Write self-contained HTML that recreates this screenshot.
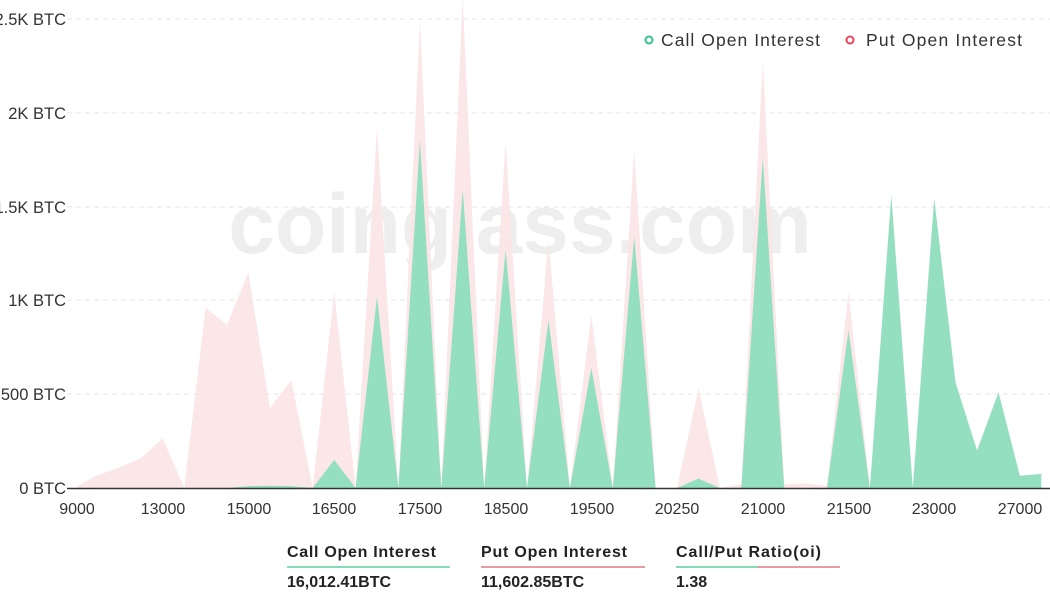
<!DOCTYPE html>
<html><head><meta charset="utf-8"><style>
body{margin:0;width:1050px;height:600px;background:#fff;overflow:hidden;font-family:"Liberation Sans",sans-serif;}
</style></head><body>
<svg width="1050" height="600" viewBox="0 0 1050 600" xmlns="http://www.w3.org/2000/svg">
<g stroke="#e6e6e6" stroke-dasharray="5,4" stroke-width="1">
<line x1="67" y1="19" x2="1050" y2="19"/><line x1="67" y1="113" x2="1050" y2="113"/>
<line x1="67" y1="207" x2="1050" y2="207"/><line x1="67" y1="300" x2="1050" y2="300"/>
<line x1="67" y1="394" x2="1050" y2="394"/>
</g>
<g font-size="16.5" fill="#333" text-anchor="end">
<text x="66" y="25">2.5K BTC</text><text x="66" y="119">2K BTC</text>
<text x="66" y="213">1.5K BTC</text><text x="66" y="306">1K BTC</text>
<text x="66" y="400">500 BTC</text><text x="66" y="494">0 BTC</text>
</g>
<text x="520" y="253" font-size="84" font-weight="bold" fill="#000" fill-opacity="0.065" text-anchor="middle">coinglass.com</text>
<path id="put" fill="#fbe3e5" fill-opacity="0.9" d=""/>
<path id="call" fill="#94dfc0" d=""/>
<line x1="67" y1="488.5" x2="1050" y2="488.5" stroke="#333" stroke-width="1.5"/>
<g font-size="16" fill="#333" text-anchor="middle">
<text x="77" y="514">9000</text><text x="163" y="514">13000</text><text x="249" y="514">15000</text>
<text x="334" y="514">16500</text><text x="420" y="514">17500</text><text x="506" y="514">18500</text>
<text x="592" y="514">19500</text><text x="677" y="514">20250</text><text x="763" y="514">21000</text>
<text x="849" y="514">21500</text><text x="934" y="514">23000</text><text x="1020" y="514">27000</text>
</g>
<circle cx="649" cy="40" r="3.5" fill="none" stroke="#2fc48a" stroke-width="2"/>
<text x="661" y="46" font-size="17.5" fill="#333" textLength="159">Call Open Interest</text>
<circle cx="850" cy="40" r="3.5" fill="none" stroke="#e8455e" stroke-width="2"/>
<text x="866" y="46" font-size="17.5" fill="#333" textLength="156">Put  Open Interest</text>
<g font-size="16" font-weight="bold" fill="#222">
<text x="287" y="557" textLength="149">Call Open Interest</text><text x="481" y="557" textLength="146">Put Open Interest</text><text x="676" y="557" textLength="145">Call/Put Ratio(oi)</text>
<text x="287" y="587">16,012.41BTC</text><text x="481" y="587">11,602.85BTC</text><text x="676" y="587">1.38</text>
</g>
<line x1="287" y1="567" x2="450" y2="567" stroke="#5ccf9e" stroke-width="1.5"/>
<line x1="481" y1="567" x2="645" y2="567" stroke="#e07a80" stroke-width="1.5"/>
<line x1="676" y1="567" x2="758" y2="567" stroke="#5ccf9e" stroke-width="1.5"/>
<line x1="758" y1="567" x2="840" y2="567" stroke="#e07a80" stroke-width="1.5"/>
</svg>
<script>
var put=[10,70,110,160,265,0,960,870,1150,425,575,0,1045,0,1925,0,2495,0,2620,0,1845,0,1320,0,920,0,1800,0,0,530,0,20,2280,20,25,10,1045,0,0,0,0,0,0,0,0,0];
var call=[0,0,0,0,0,0,0,0,10,12,10,0,150,0,1020,0,1855,0,1590,0,1270,0,895,0,640,0,1340,0,0,50,0,0,1760,0,0,0,840,0,1560,0,1545,560,200,510,65,75];
function d(a){var s="M77,488";for(var i=0;i<a.length;i++){s+=" L"+(77+21.43*i).toFixed(1)+","+(488-a[i]*0.1876).toFixed(1);}return s+" L"+(77+21.43*(a.length-1)).toFixed(1)+",488 Z";}
document.getElementById("put").setAttribute("d",d(put));
document.getElementById("call").setAttribute("d",d(call));
</script>
</body></html>
